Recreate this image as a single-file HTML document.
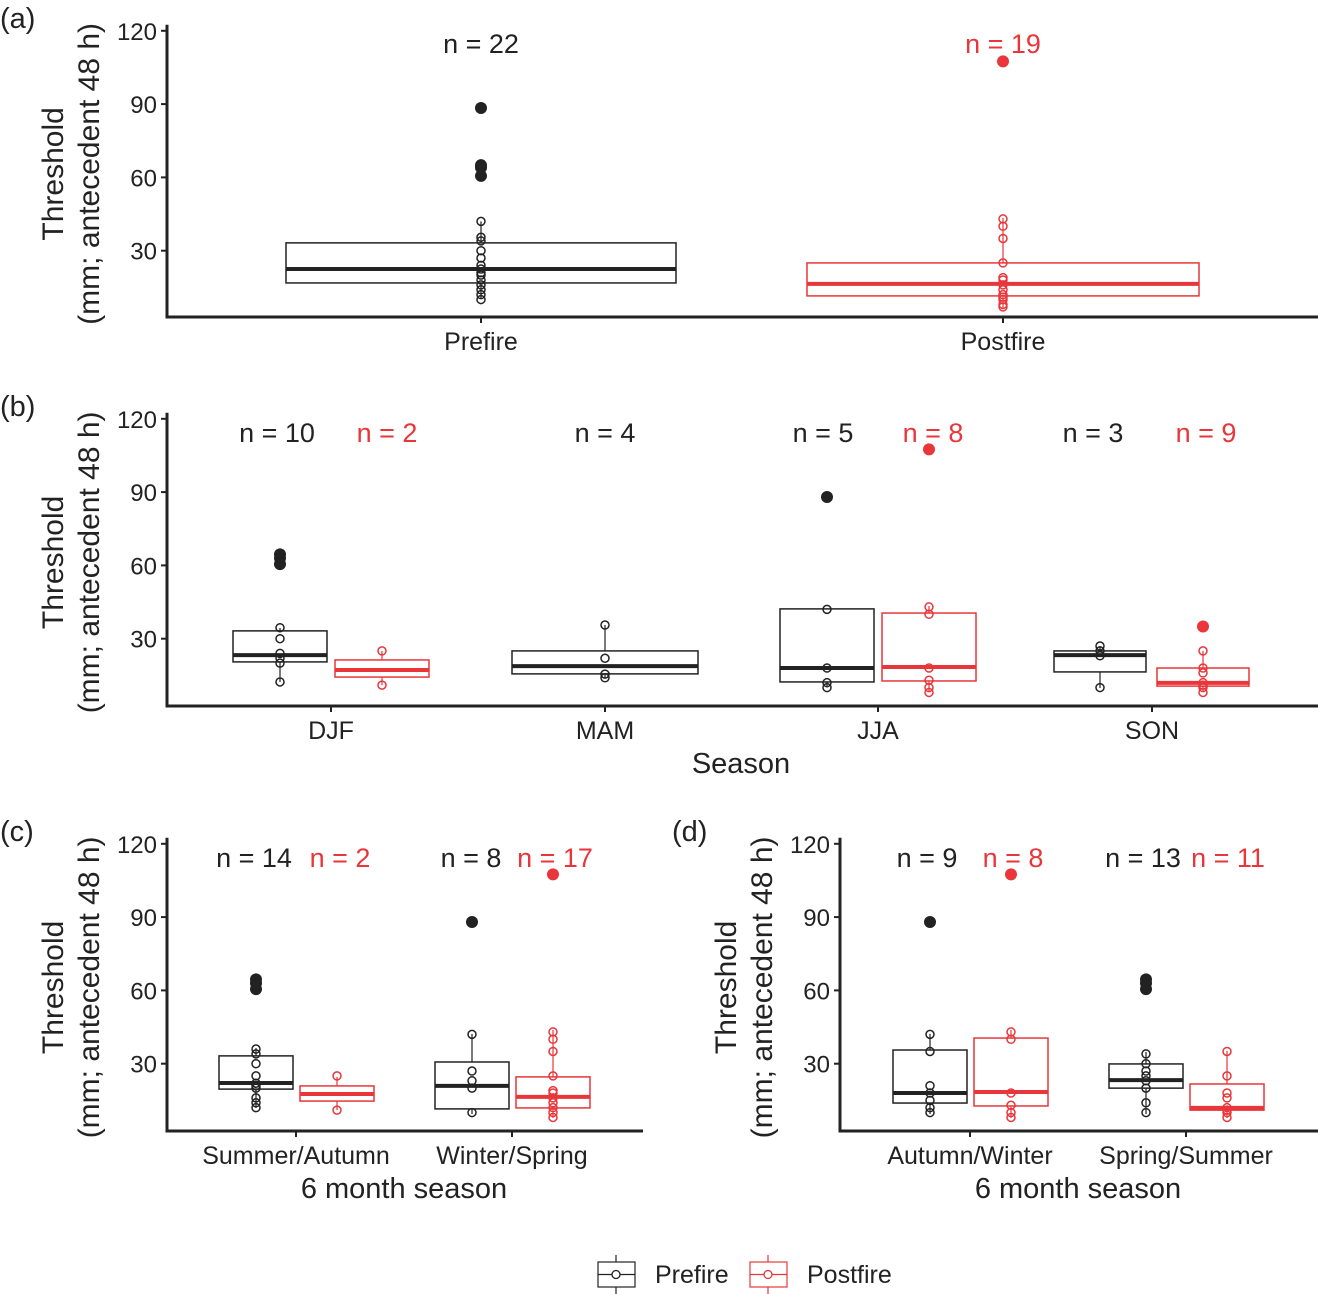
<!DOCTYPE html>
<html><head><meta charset="utf-8"><style>
body{margin:0;background:#fff}
svg{display:block;font-family:"Liberation Sans",Arial,sans-serif}
</style></head><body>
<svg id="chart" width="1318" height="1294" viewBox="0 0 1318 1294" xmlns="http://www.w3.org/2000/svg"></svg>
<script>
// ---- data ----
// stats: [whiskerLow, q1, median, q3, whiskerHigh]
const panelAStats = {pre:[10.2,16.8,22.5,33.2,42], post:[6.5,11.5,16.4,25,43.4]};
const panelAPoints = {pre:[42,35.5,34,30,27,24,22.5,21,20,18,16,14,12,10], post:[43,40,35,25,19,18,16,14,12,11,10,8,7]};
const panelAOutliers = {pre:[88.4,65,64,60.6], post:[107.5]};
const panelACats = ["Prefire","Postfire"];

const panelBCats = ["DJF","MAM","JJA","SON"];
const panelBPreStats = [[12.3,20.5,23.3,33.2,34.4],[14,15.6,18.8,25,35.6],[10,12.3,18,42.2,42.2],[9.8,16.4,23.3,25,27]];
const panelBPostStats = [[11,14.3,17.2,21.3,25],null,[8.2,12.7,18.4,40.5,43.4],[8.2,10.6,11.9,18,25]];
const panelBPrePoints = [[34.5,30,24,22,20,12.3],[35.6,22,15.5,14],[42,18,12,10],[27,25,23,10]];
const panelBPostPoints = [[25,11],[],[43,40,18,13,10,8],[25,18,16,12,11,10,8]];
const panelBPreOut = [[64.5,63,60.5],[],[88],[]];
const panelBPostOut = [[],[],[107.5],[35]];
const panelBPreN = [10,4,5,3];
const panelBPostN = [2,null,8,9];

const panelCCats = ["Summer/Autumn","Winter/Spring"];
const panelCPreStats = [[11.9,19.6,22.1,33.2,36.4],[9.4,11.5,20.9,30.7,42.2]];
const panelCPostStats = [[11,14.7,17.6,20.9,24.6],[7.8,11.9,16.4,24.6,43.8]];
const panelCPrePoints = [[36,34,30,25,22,21,20,16,14,12],[42,27,23,20,10]];
const panelCPostPoints = [[25,11],[43,40,35,25,19,18,16,14,12,10,8]];
const panelCPreOut = [[64.5,63,60.5],[88]];
const panelCPostOut = [[],[107.5]];
const panelCPreN = [14,8];
const panelCPostN = [2,17];

const panelDCats = ["Autumn/Winter","Spring/Summer"];
const panelDPreStats = [[9.4,13.9,18,35.6,42.2],[9.4,20,23.3,29.9,34.8]];
const panelDPostStats = [[7.8,12.7,18.4,40.5,43.8],[7.8,11,11.9,21.7,35.2]];
const panelDPrePoints = [[42,35,21,18,15,12,10],[34,30,27,25,23,20,14,10]];
const panelDPostPoints = [[43,40,18,13,10,8],[35,25,18,16,12,11,10,8]];
const panelDPreOut = [[88],[64.5,63,60.5]];
const panelDPostOut = [[107.5],[]];
const panelDPreN = [9,13];
const panelDPostN = [8,11];

const yTicks = [30,60,90,120];
// ---- drawing ----
const BLK="#222", RED="#e8363a";
const svg=document.getElementById('chart');
const NS="http://www.w3.org/2000/svg";
function mk(tag,attrs,parent){const e=document.createElementNS(NS,tag);for(const k in attrs)e.setAttribute(k,attrs[k]);(parent||svg).appendChild(e);return e;}
function txt(x,y,s,size,fill,anchor,name,rot){const t=mk('text',{x:x,y:y,'font-size':size,fill:fill,'text-anchor':anchor||'middle'});if(rot)t.setAttribute('transform','rotate(-90 '+x+' '+y+')');t.textContent=s;


return t;}

function panel(cfg){
  const g=mk('g',{});
  
  
  const y=v=>cfg.y0-v*(73.3/30);
  const ax=mk('path',{d:`M${cfg.x0} ${y(122.5)} V${cfg.axisY} H${cfg.x1}`,stroke:BLK,'stroke-width':3,fill:'none'},g);
  
  
  yTicks.forEach(t=>{
    mk('line',{x1:cfg.x0-6,x2:cfg.x0,y1:y(t),y2:y(t),stroke:BLK,'stroke-width':2},g);
    txt(cfg.x0-10,y(t)+9,String(t),24,'#222','end','y-tick-label');
  });
  cfg.cats.forEach((c,i)=>{
    mk('line',{x1:cfg.cx[i],x2:cfg.cx[i],y1:cfg.axisY,y2:cfg.axisY+6,stroke:BLK,'stroke-width':2},g);
    txt(cfg.cx[i],cfg.axisY+33,c,25,'#222','middle','x-tick-label');
  });
  function box(cx,hw,st,pts,outs,col,isPost){
    if(!st)return;
    const gb=mk('g',{},g);
    
    
    mk('line',{x1:cx,x2:cx,y1:y(st[0]),y2:y(st[4]),stroke:col,'stroke-width':1.2},gb);
    mk('rect',{x:cx-hw,y:y(st[3]),width:2*hw,height:y(st[1])-y(st[3]),fill:'#fff',stroke:col,'stroke-width':1.5},gb);
    mk('line',{x1:cx-hw,x2:cx+hw,y1:y(st[2]),y2:y(st[2]),stroke:col,'stroke-width':4},gb);
    pts.forEach(v=>{const c=mk('circle',{cx:cx,cy:y(v),r:4,fill:'none',stroke:col,'stroke-width':1.5},gb);
      
      });
    outs.forEach(v=>{const c=mk('circle',{cx:cx,cy:y(v),r:6,fill:col},gb);
      
      });
  }
  cfg.cats.forEach((c,i)=>{
    box(cfg.preX[i],cfg.hw[i],cfg.preS[i],cfg.preP[i],cfg.preO[i],BLK,false);
    box(cfg.postX[i],cfg.hw[i],cfg.postS[i],cfg.postP[i],cfg.postO[i],RED,true);
  });
  (cfg.nLabels||[]).forEach(n=>txt(n[0],cfg.nY,'n = '+n[1],27,n[2],'middle','n-label'));
  txt(cfg.labX,cfg.labY,cfg.lab,29,'#222','start','panel-label');
  const my=(y(120)+cfg.axisY)/2;
  txt(cfg.x0-104,my,'Threshold',30,'#222','middle','y-axis-title',true);
  txt(cfg.x0-68,my,'(mm; antecedent 48 h)',30,'#222','middle','y-axis-title',true);
  if(cfg.xTitle) txt(cfg.xTitleX,cfg.xTitleY,cfg.xTitle,29,'#222','middle','x-axis-title');
}
panel({name:'panel-a',x0:167,x1:1318,y0:324,axisY:317,cats:panelACats,cx:[481,1003],
 preX:[481,NaN],postX:[NaN,1003],hw:[195,196],
 preS:[panelAStats.pre,null],postS:[null,panelAStats.post],
 preP:[panelAPoints.pre,[]],postP:[[],panelAPoints.post],preO:[panelAOutliers.pre,[]],postO:[[],panelAOutliers.post],
 nY:53,nLabels:[[481,22,'#222'],[1003,19,RED]],lab:'(a)',labX:0,labY:28});
panel({name:'panel-b',x0:167,x1:1318,y0:712,axisY:706,cats:panelBCats,cx:[331,605,878,1152],
 preX:[280,605,827,1100],postX:[382,NaN,929,1203],hw:[47,93,47,46],
 preS:panelBPreStats,postS:panelBPostStats,preP:panelBPrePoints,postP:panelBPostPoints,preO:panelBPreOut,postO:panelBPostOut,
 nY:442,nLabels:[[277,panelBPreN[0],'#222'],[387,panelBPostN[0],RED],[605,panelBPreN[1],'#222'],[823,panelBPreN[2],'#222'],[933,panelBPostN[2],RED],[1093,panelBPreN[3],'#222'],[1206,panelBPostN[3],RED]],
 lab:'(b)',labX:0,labY:416,xTitle:'Season',xTitleX:741,xTitleY:773});
panel({name:'panel-c',x0:167,x1:643,y0:1137,axisY:1131,cats:panelCCats,cx:[296,512],
 preX:[256,472],postX:[337,553],hw:[37,37],
 preS:panelCPreStats,postS:panelCPostStats,preP:panelCPrePoints,postP:panelCPostPoints,preO:panelCPreOut,postO:panelCPostOut,
 nY:867,nLabels:[[254,panelCPreN[0],'#222'],[340,panelCPostN[0],RED],[471,panelCPreN[1],'#222'],[555,panelCPostN[1],RED]],
 lab:'(c)',labX:0,labY:841,xTitle:'6 month season',xTitleX:404,xTitleY:1198});
panel({name:'panel-d',x0:840,x1:1318,y0:1137,axisY:1131,cats:panelDCats,cx:[970,1186],
 preX:[930,1146],postX:[1011,1227],hw:[37,37],
 preS:panelDPreStats,postS:panelDPostStats,preP:panelDPrePoints,postP:panelDPostPoints,preO:panelDPreOut,postO:panelDPostOut,
 nY:867,nLabels:[[927,panelDPreN[0],'#222'],[1013,panelDPostN[0],RED],[1143,panelDPreN[1],'#222'],[1228,panelDPostN[1],RED]],
 lab:'(d)',labX:672,labY:841,xTitle:'6 month season',xTitleX:1078,xTitleY:1198});
// legend
const lg=mk('g',{});


[[598,BLK,'Prefire',655],[750,RED,'Postfire',807]].forEach(e=>{
  const k=mk('g',{},lg);
  
  
  mk('line',{x1:e[0]+18,x2:e[0]+18,y1:1255,y2:1294,stroke:e[1],'stroke-width':1.2},k);
  mk('rect',{x:e[0],y:1262,width:37,height:25,fill:'#fff',stroke:e[1],'stroke-width':1.2},k);
  mk('line',{x1:e[0],x2:e[0]+37,y1:1274.5,y2:1274.5,stroke:e[1],'stroke-width':1.2},k);
  mk('circle',{cx:e[0]+18,cy:1274.5,r:4,fill:'#fff',stroke:e[1],'stroke-width':1.3},k);
  txt(e[3],1283,e[2],25,'#222','start','legend-label');
});
</script>
</body></html>
